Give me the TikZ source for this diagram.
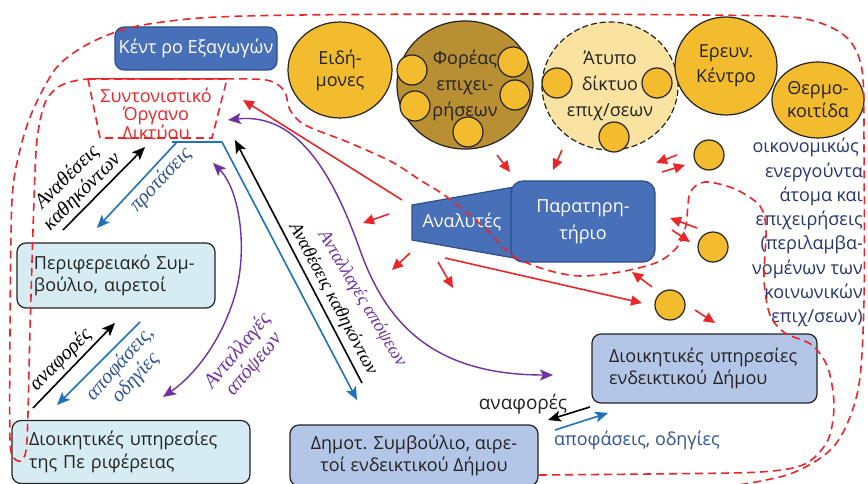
\documentclass[tikz,border=0pt]{standalone}
\usepackage{fontspec}
\setmainfont{Open Sans}
\newfontfamily\serifit{Liberation Serif}
\usetikzlibrary{arrows.meta,shapes.geometric}
\definecolor{rd}{RGB}{236,38,40}
\definecolor{gold}{RGB}{243,187,46}
\definecolor{dgold}{RGB}{184,143,50}
\definecolor{lyel}{RGB}{250,227,160}
\definecolor{bfill}{RGB}{72,112,184}
\definecolor{bdraw}{RGB}{45,78,140}
\definecolor{cyanfill}{RGB}{214,236,242}
\definecolor{lbfill}{RGB}{180,198,231}
\definecolor{arrblue}{RGB}{31,114,186}
\definecolor{purp}{RGB}{112,48,160}
\definecolor{navy}{RGB}{38,54,112}
\definecolor{lblue}{RGB}{47,85,151}
\definecolor{ink}{RGB}{35,35,35}
\tikzset{
  base/.style={font=\fontsize{18}{22.5}\selectfont, text=ink},
  roundbox/.style={base, draw=ink, line width=1.2pt, rounded corners=9pt, inner ysep=0pt},
  blob/.style={ellipse, draw=ink, line width=1.2pt, fill=gold, inner sep=0pt, align=center, text=ink},
  dot/.style={circle, draw=ink, line width=1.2pt, fill=gold, minimum size=30pt, inner sep=0pt},
  rarr/.style={draw=rd, line width=1.6pt, -{Triangle[length=11pt,width=10pt]}},
  karr/.style={line width=1.6pt, -{Stealth[length=13pt,width=11pt,inset=3pt]}},
  parr/.style={draw=purp, line width=1.4pt, {Stealth[length=13pt,width=11pt,inset=3pt]}-{Stealth[length=13pt,width=11pt,inset=3pt]}},
  lab/.style={font=\serifit\itshape\fontsize{20.5}{21}\selectfont, align=center, inner sep=0pt},
  labr/.style={font=\serifit\itshape\fontsize{18.5}{20}\selectfont, align=center, inner sep=0pt},
  rdash/.style={draw=rd, line width=1.6pt, dash pattern=on 8pt off 5pt},
}
\begin{document}
\begin{tikzpicture}[x=1pt,y=-1pt]
\useasboundingbox[fill=white] (0,0) rectangle (868,484);

% ---------- circles ----------
\node[blob, minimum width=104pt, minimum height=96pt, font=\fontsize{18}{22}\selectfont] (eid) at (340,70) {Ειδή-\\μονες};
\node[blob, fill=dgold, minimum width=136pt, minimum height=128pt, font=\fontsize{18}{26}\selectfont] (forea) at (465,85) {Φορέας\\επιχει-\\ρήσεων};
\node[blob, fill=lyel, dash pattern=on 6pt off 3pt, minimum width=136pt, minimum height=128pt, font=\fontsize{18}{26}\selectfont] (atypo) at (610,86) {Άτυπο\\δίκτυο\\επιχ/σεων};
\node[blob, minimum width=102pt, minimum height=98pt, font=\fontsize{18}{25}\selectfont] (erevn) at (726,66) {Ερευν.\\Κέντρο};
\node[blob, minimum width=92pt, minimum height=76pt, font=\fontsize{18}{23}\selectfont] (therm) at (818,100) {Θερμο-\\κοιτίδα};

\node[dot] (f1) at (412,70) {};
\node[dot] (f2) at (415,106) {};
\node[dot] (f3) at (513,62) {};
\node[dot] (f4) at (515,95) {};
\node[dot] (f5) at (468,132) {};
\node[dot] (a1) at (557,83) {};
\node[dot] (a2) at (657,83) {};
\node[dot] (a3) at (614,137) {};
\node[dot] (d1) at (709,155) {};
\node[dot] (d2) at (713,247) {};
\node[dot] (d3) at (670,305) {};

% ---------- boxes ----------
\node[roundbox, fill=bfill, draw=bdraw, text=white, minimum width=162pt, minimum height=43pt] (kentro) at (196,48.5) {Κέντ ρο Εξαγωγών};

\draw[fill=bfill, draw=bdraw, line width=1.2pt] (412,205) -- (514,187) -- (514,258) -- (412,240) -- cycle;
\node[base, text=white] (anal) at (462,222) {Αναλυτές};
\node[roundbox, fill=bfill, draw=bdraw, text=white, minimum width=144pt, minimum height=81pt, align=center, rounded corners=12pt, font=\fontsize{18}{27}\selectfont] (parat) at (583,221.5) {Παρατηρη-\\τήριο};

\node[roundbox, fill=cyanfill, minimum height=65pt, text width=164pt, inner xsep=17pt, align=left] (perif) at (116,275.5) {Περιφερειακό Συμ-\\βούλιο, αιρετοί};
\node[roundbox, fill=cyanfill, minimum height=63pt, text width=204pt, inner xsep=17pt, align=left] (dperif) at (131,452) {Διοικητικές υπηρεσίες\\της Πε ριφέρειας};
\node[roundbox, fill=lbfill, minimum height=61pt, minimum width=248pt, align=center] (dimot) at (414,455.5) {Δημοτ. Συμβούλιο, αιρε-\\τοί ενδεικτικού Δήμου};
\node[roundbox, fill=lbfill, minimum height=69pt, text width=191pt, inner xsep=17pt, align=left] (ddimou) at (704.5,368.5) {Διοικητικές υπηρεσίες\\ενδεικτικού Δήμου};

% ---------- Syntonistiko ----------
\node[font=\fontsize{18}{17.8}\selectfont, text=rd, align=center] (synt) at (156,114) {Συντονιστικό\\Όργανο\\Δικτύου};
\draw[rdash] (88,79) -- (227,79) -- (212,138) -- (100,138) -- cycle;

% ---------- right text ----------
\node[anchor=north east, align=right, text=navy, font=\fontsize{18}{24.3}\selectfont, inner sep=0pt] (econ) at (863,138) {οικονομικώς\hspace*{4pt}\\ενεργούντα\\άτομα και\\επιχειρήσεις\\(περιλαμβα-\\νομένων των\\κοινωνικών\\επιχ/σεων)};

% ---------- coordinates ----------
\coordinate (k1s) at (63,230); \coordinate (k1e) at (145,147);
\coordinate (b1s) at (177,142); \coordinate (b1e) at (97,228);
\coordinate (bl1) at (172,142); \coordinate (bl2) at (222,142);
\coordinate (b2e) at (357,400);
\coordinate (k2s) at (362,383); \coordinate (k2e) at (235,140);
\coordinate (k3s) at (33,408); \coordinate (k3e) at (115,323);
\coordinate (b3s) at (140,322); \coordinate (b3e) at (57,405);
\coordinate (p1s) at (213,163); \coordinate (p1m) at (235,295); \coordinate (p1e) at (163,397);
\coordinate (p2s) at (228,120); \coordinate (p2m) at (360,250); \coordinate (p2e) at (553,375);
\coordinate (k4s) at (590,407); \coordinate (k4e) at (548,420);
\coordinate (b4s) at (555,430); \coordinate (b4e) at (608,413);

% ---------- black / blue / purple arrows ----------
\draw[karr] (k1s) -- (k1e);
\draw[karr, arrblue] (b1s) -- (b1e);
\draw[arrblue, line width=1.5pt] (bl1) -- (bl2);
\draw[karr, arrblue] (bl2) -- (b2e);
\draw[karr] (k2s) -- (k2e);
\draw[karr] (k3s) -- (k3e);
\draw[karr, arrblue] (b3s) -- (b3e);
\draw[karr] (k4s) -- (k4e);
\draw[karr, arrblue] (b4s) -- (b4e);
\draw[parr] (p1s) .. controls (240,190) and (248,250) .. (p1m) .. controls (222,340) and (195,375) .. (p1e);
\draw[parr] (p2s) .. controls (300,112) and (335,180) .. (p2m) .. controls (385,320) and (430,375) .. (p2e);

% ---------- labels ----------
\node[lab, rotate=45] (l1) at (75,185) {Αναθέσεις\\καθηκόντων};
\node[lab, rotate=47, text=lblue] (l2) at (161,180) {προτάσεις};
\node[labr, rotate=-62] (l3) at (333,299) {Αναθέσεις καθηκόντων};
\node[labr, rotate=-59, text=purp] (l4) at (362,299) {Ανταλλαγές απόψεων};
\node[lab, rotate=50, text=purp] (l5) at (246,358) {Ανταλλαγές\\απόψεων};
\node[lab, rotate=45] (l6) at (61,360) {αναφορές};
\node[lab, rotate=48, text=lblue] (l7) at (128,371) {αποφάσεις,\\οδηγίες};
\node[base, font=\fontsize{19}{22}\selectfont] (anaf2) at (523,404) {αναφορές};
\node[base, text=lblue] (apof2) at (637,440) {αποφάσεις, οδηγίες};

% ---------- red arrows ----------
\foreach \a/\b/\c/\d [count=\i] in {402/200/243/100, 389/214/363/223, 410/253/392/270, 438/262/453/288, 445/258/642/303, 497/155/510/172, 562/150/553/170, 677/155/656/163, 662/172/685/165, 697/228/670/218, 672/230/690/242, 652/287/632/272, 695/310/715/323}{
  \coordinate (ra\i) at (\a,\b); \coordinate (rb\i) at (\c,\d);
  \draw[rarr] (ra\i) -- (rb\i);
}

% ---------- big dashed boundary ----------
\draw[rdash] plot[smooth, tension=0.5] coordinates {
 (539,475) (650,474) (760,472) (805,464) (828,440) (834,405) (828,368) (812,345) (785,333) (770,315) (764,280) (766,230) (760,206) (735,189) (705,182) (690,193) (686,225) (678,246) (658,262) (620,272) (580,276) (547,270) (513,256) (487,230) (447,197) (420,180) (392,162) (350,143) (305,125) (290,110) (285,92) (273,82) (250,79) (150,79) (88,79) (60,86) (45,103) (37,140) (34,200) (30,330) (27,440) (22,460) (14,458) (10,440) (10,330) (12,200) (20,150) (33,110) (57,67) (90,43) (133,27) (200,18) (300,15) (500,14) (700,15) (800,18) (845,36) (862,70) (864,150) (864,300) (858,390) (835,445) (790,474) (720,488)};
\end{tikzpicture}
\end{document}
